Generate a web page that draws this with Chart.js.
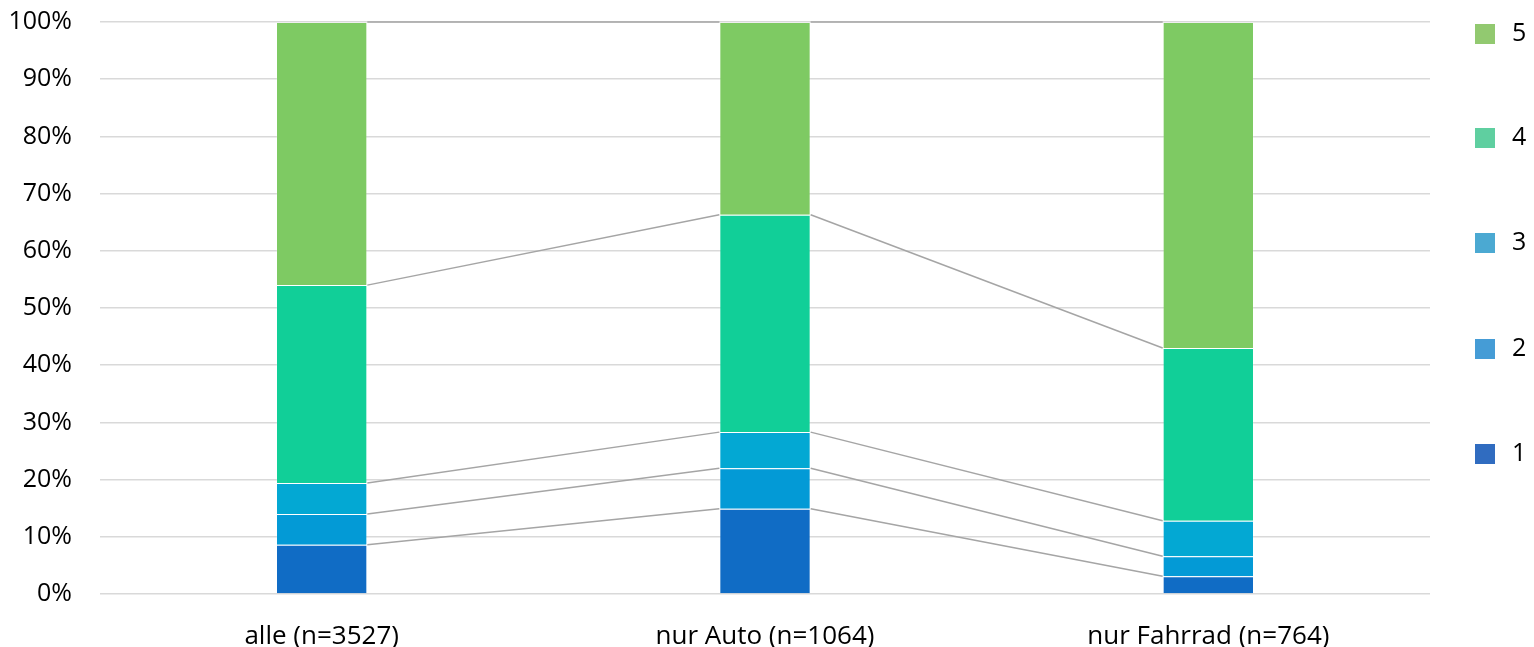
<!DOCTYPE html>
<html>
<head>
<meta charset="utf-8">
<script src="https://cdn.jsdelivr.net/npm/chart.js@4"></script>
<style>
  html, body { margin: 0; padding: 0; background: #fff; }
  #wrap { position: relative; width: 1534px; height: 647px; }
  #legend { position: absolute; left: 1475px; top: 0; font-family: "Open Sans", sans-serif; font-size: 25px; color: #000; }
  .item { position: absolute; left: 0; width: 60px; height: 24px; }
  .box { position: absolute; left: 0; top: 2px; width: 20px; height: 20px; }
  .lbl { position: absolute; left: 37px; top: -6px; line-height: 30px; }
</style>
</head>
<body>
<div id="wrap">
  <canvas id="stackChart" width="1534" height="647"></canvas>
  <div id="legend"></div>
</div>
<script>
const categories = ['alle (n=3527)', 'nur Auto (n=1064)', 'nur Fahrrad (n=764)'];
const seriesNames = ['1', '2', '3', '4', '5'];
const values1 = [8.6, 14.9, 3.1];
const values2 = [5.4, 7.1, 3.5];
const values3 = [5.4, 6.3, 6.2];
const values4 = [34.6, 38.0, 30.2];
const values5 = [46.0, 33.7, 57.0];
const yTicks = [0, 10, 20, 30, 40, 50, 60, 70, 80, 90, 100];

const barColors = ['#106cc5', '#039ad6', '#03a8d3', '#11cf98', '#7eca63'];
const legendColors = ['#306cc0', '#459cd6', '#4ba9d2', '#5fcfa0', '#92c970'];
const allValues = [values1, values2, values3, values4, values5];

// grey connector lines between the stacked segments
const seriesLines = {
  id: 'seriesLines',
  afterDatasetsDraw(chart) {
    const ctx = chart.ctx;
    ctx.save();
    ctx.strokeStyle = '#a5a5a5';
    ctx.lineWidth = 1.5;
    chart.data.datasets.forEach((ds, i) => {
      const meta = chart.getDatasetMeta(i);
      for (let j = 0; j < meta.data.length - 1; j++) {
        const a = meta.data[j];
        const b = meta.data[j + 1];
        ctx.beginPath();
        ctx.moveTo(a.x + a.width / 2, a.y);
        ctx.lineTo(b.x - b.width / 2, b.y);
        ctx.stroke();
      }
    });
    ctx.restore();
  }
};

const stackChart = document.getElementById('stackChart');

const stackChart_1 = new Chart(stackChart, {
  type: 'bar',
  data: {
    labels: categories,
    datasets: allValues.map((vals, i) => ({
      label: seriesNames[i],
      data: vals,
      backgroundColor: barColors[i],
      borderColor: 'rgba(255,255,255,0.15)',
      borderWidth: 1,
      barPercentage: 0.206,
      categoryPercentage: 1,
    })),
  },
  options: {
    responsive: false,
    animation: false,
    layout: {
      padding: { left: 8, right: 104, top: 0, bottom: 0 }
    },
    scales: {
      x: {
        stacked: true,
        grid: { display: false },
        border: { display: false },
        afterFit(axis) {
          axis.height = 53;
        },
        ticks: {
          color: '#000',
          padding: 19,
          font: { family: 'Open Sans', size: 26 }
        }
      },
      y: {
        stacked: true,
        min: 0,
        max: 100,
        afterBuildTicks(axis) {
          axis.ticks = yTicks.map(v => ({ value: v }));
        },
        afterFit(axis) {
          axis.width = 92;
          axis.paddingTop = 22;
          axis.paddingBottom = 0;
        },
        grid: { color: '#d9d9d9', lineWidth: 1.5, drawTicks: false },
        border: { display: false },
        ticks: {
          color: '#000',
          padding: 28,
          font: { family: 'Open Sans', size: 25 },
          callback: v => v + '%'
        }
      }
    },
    plugins: {
      legend: { display: false },
      tooltip: { enabled: false }
    }
  },
  plugins: [seriesLines]
});

// legend, shown top-down from 5 to 1
const legend = document.getElementById('legend');
const legendTops = [442, 337, 231, 126, 22];
seriesNames.forEach((name, i) => {
  const item = document.createElement('div');
  item.className = 'item';
  item.style.top = legendTops[i] + 'px';
  item.innerHTML = '<div class="box" style="background:' + legendColors[i] + '"></div><div class="lbl">' + name + '</div>';
  legend.appendChild(item);
});
</script>
</body>
</html>
